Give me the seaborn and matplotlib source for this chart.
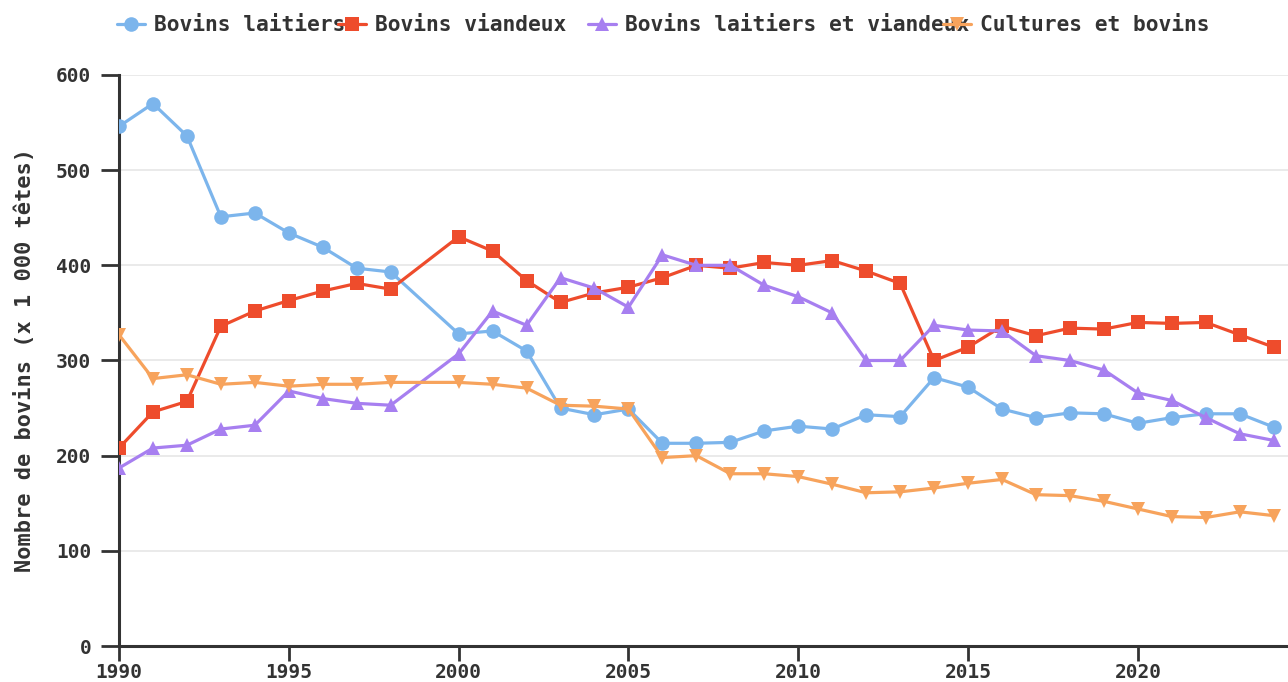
import matplotlib
matplotlib.use("Agg")
import matplotlib.pyplot as plt
import seaborn as sns
import pandas as pd

# Years of the survey (no figure published for 1999)
years = [1990, 1991, 1992, 1993, 1994, 1995, 1996, 1997, 1998,
         2000, 2001, 2002, 2003, 2004, 2005, 2006, 2007, 2008, 2009,
         2010, 2011, 2012, 2013, 2014, 2015, 2016, 2017, 2018, 2019,
         2020, 2021, 2022, 2023, 2024]

# Cattle numbers by farm type (thousand head)
bovins_laitiers = [546, 570, 536, 451, 455, 434, 419, 397, 393,
                   328, 331, 310, 250, 243, 249, 213, 213, 214, 226,
                   231, 228, 243, 241, 282, 272, 249, 240, 245, 244,
                   234, 240, 244, 244, 230]
bovins_viandeux = [208, 246, 257, 336, 352, 363, 373, 381, 375,
                   430, 415, 384, 361, 371, 377, 387, 400, 397, 403,
                   400, 405, 394, 381, 300, 314, 336, 326, 334, 333,
                   340, 339, 340, 327, 314]
bovins_mixtes = [187, 208, 211, 228, 232, 268, 260, 255, 253,
                 307, 352, 337, 387, 376, 356, 411, 400, 400, 379,
                 367, 350, 300, 300, 337, 332, 331, 305, 300, 290,
                 266, 258, 240, 223, 216]
cultures_bovins = [327, 281, 285, 275, 277, 273, 275, 275, 277,
                   277, 275, 271, 253, 252, 249, 198, 200, 181, 181,
                   178, 170, 161, 162, 166, 171, 175, 159, 158, 152,
                   144, 136, 135, 141, 137]

series_names = ["Bovins laitiers", "Bovins viandeux",
                "Bovins laitiers et viandeux", "Cultures et bovins"]
series_values = [bovins_laitiers, bovins_viandeux, bovins_mixtes, cultures_bovins]
y_label = "Nombre de bovins (x 1 000 têtes)"
x_ticks = [1990, 1995, 2000, 2005, 2010, 2015, 2020]
y_ticks = [0, 100, 200, 300, 400, 500, 600]

colors = ["#7cb5ec", "#ee4c2c", "#a77ff0", "#f7a35c"]
markers = ["o", "s", "^", "v"]

df = pd.concat(
    [pd.DataFrame({"Année": years, "Bovins": vals, "Type": name})
     for name, vals in zip(series_names, series_values)],
    ignore_index=True,
)

sns.set_theme(style="white")
plt.rcParams["font.family"] = ["DejaVu Sans Mono", "DejaVu Sans"]
plt.rcParams["font.weight"] = "bold"
text_color = "#333333"

fig = plt.figure(figsize=(12.88, 6.82), dpi=100)
ax = fig.add_axes([119 / 1288, 36 / 682, 1 - 119 / 1288, (646 - 75) / 682])

sns.lineplot(
    data=df, x="Année", y="Bovins", hue="Type", style="Type",
    hue_order=series_names, style_order=series_names,
    palette=dict(zip(series_names, colors)),
    markers=dict(zip(series_names, markers)),
    dashes=False, linewidth=2.3, markersize=10.5, markeredgewidth=0,
    ax=ax,
)

ax.set_xlim(1990, 2024.42)
ax.set_ylim(0, 600)
ax.set_xticks(x_ticks)
ax.set_yticks(y_ticks)
ax.set_xlabel("")
ax.set_ylabel(y_label, fontsize=15.8, fontweight="bold", color=text_color, labelpad=15)

ax.yaxis.grid(True, color="#e6e6e6", linewidth=1.2)
ax.xaxis.grid(False)
ax.set_axisbelow(True)
for side in ("top", "right"):
    ax.spines[side].set_visible(False)
for side in ("left", "bottom"):
    ax.spines[side].set_color("#333333")
    ax.spines[side].set_linewidth(2.2)
    ax.spines[side].set_zorder(1)

ax.tick_params(axis="y", which="major", left=True, length=13, width=2,
               color="#333333", labelsize=14, labelcolor=text_color, pad=7)
ax.tick_params(axis="x", which="major", bottom=True, length=11, width=2,
               color="#333333", labelsize=14, labelcolor=text_color, pad=1)
for lab in ax.get_xticklabels() + ax.get_yticklabels():
    lab.set_fontweight("bold")

# Legend: one entry per series, laid out in a row above the plot
handles, labels = ax.get_legend_handles_labels()
ax.get_legend().remove()
legend_x = [117, 338, 588, 943]
for h, lab, x in zip(handles, labels, legend_x):
    h.set_linewidth(2.3)
    fig.legend(
        [h], [lab], loc="center left",
        bbox_to_anchor=(x / 1288, 1 - 25 / 682),
        frameon=False, handlelength=1.3, handletextpad=0.45,
        borderpad=0, borderaxespad=0,
        prop={"family": "DejaVu Sans Mono", "weight": "bold", "size": 15.3},
        labelcolor=text_color,
    )

fig.savefig("out.png", dpi=100)
